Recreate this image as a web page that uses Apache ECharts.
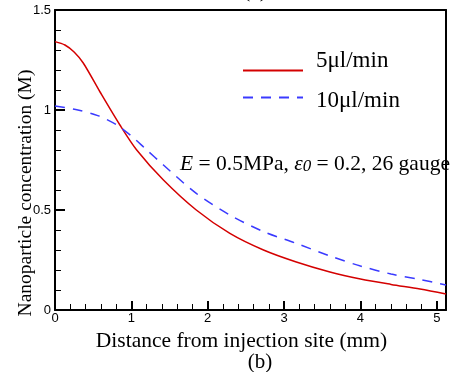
<!DOCTYPE html>
<html><head><meta charset="utf-8">
<script src="https://cdn.jsdelivr.net/npm/echarts@6/dist/echarts.min.js"></script>
<style>html,body{margin:0;padding:0;background:#fff}#c{width:451px;height:372px}</style>
</head><body><div id="c"></div>
<script>
// Data
const redX = [0, 0.13, 0.25, 0.37, 0.59, 0.85, 1.07, 1.42, 1.85, 2.29, 2.73, 3.16, 3.6, 4.0, 4.4, 4.78, 5.12];
const redY = [1.342, 1.325, 1.29, 1.235, 1.09, 0.925, 0.80, 0.65, 0.50, 0.383, 0.30, 0.24, 0.19, 0.155, 0.128, 0.105, 0.08];
const blueX = [0, 0.30, 0.56, 0.81, 1.0, 1.18, 1.42, 1.85, 2.29, 2.73, 3.16, 3.6, 4.0, 4.4, 4.75, 5.12];
const blueY = [1.02, 1.0, 0.972, 0.925, 0.87, 0.808, 0.725, 0.583, 0.475, 0.392, 0.333, 0.27, 0.22, 0.18, 0.155, 0.125];
const seriesNames = ['5μl/min', '10μl/min'];
const xTicks = [0, 1, 2, 3, 4, 5];
const yTicks = [0, 0.5, 1, 1.5];

const serif = 'Liberation Serif, Times New Roman, serif';
const sans = 'Liberation Sans, Arial, sans-serif';
const pairs = (xs, ys) => xs.map((x, i) => [x, ys[i]]);

const chart = echarts.init(document.getElementById('c'));
chart.setOption({
  animation: false,
  backgroundColor: '#fff',
  grid: { left: 55, right: 5, top: 10, bottom: 62 },
  legend: [
    { left: 237, top: 44, itemWidth: 60, itemHeight: 14, data: [seriesNames[0]], itemStyle: { opacity: 0 },
      formatter: '{t|{name}}',
      textStyle: { rich: { t: { fontFamily: serif, fontSize: 23, color: '#000', padding: [0, 0, 20, 8] } } } },
    { left: 237, top: 84, itemWidth: 60, itemHeight: 14, data: [seriesNames[1]], itemStyle: { opacity: 0 },
      formatter: '{t|{name}}',
      textStyle: { rich: { t: { fontFamily: serif, fontSize: 23, color: '#000', padding: [6, 0, 0, 8] } } } }
  ],
  xAxis: [{
    type: 'value', min: 0, max: 5.12, interval: 1, position: 'bottom',
    name: 'Distance from injection site (mm)', nameLocation: 'middle', nameGap: 16,
    nameTextStyle: { fontFamily: serif, fontSize: 21.5, color: '#000', padding: [0, 18, 0, 0] },
    axisLine: { show: true, onZero: false, lineStyle: { color: '#000', width: 2 } },
    axisTick: { show: true, inside: true, length: 9, lineStyle: { color: '#000', width: 2 } },
    axisLabel: { margin: 2, fontFamily: sans, fontSize: 13, color: '#000',
      formatter: v => (xTicks.indexOf(v) >= 0 ? String(v) : '') },
    splitLine: { show: false }
  }, {
    type: 'value', min: 0, max: 5.12, interval: 0.2, position: 'bottom',
    axisLine: { show: false }, axisLabel: { show: false }, splitLine: { show: false },
    axisTick: { show: true, inside: true, length: 6, lineStyle: { color: '#000', width: 1 } }
  }, {
    type: 'value', min: 0, max: 5.12, position: 'top',
    axisTick: { show: false }, axisLabel: { show: false }, splitLine: { show: false },
    axisLine: { show: true, onZero: false, lineStyle: { color: '#000', width: 2 } }
  }],
  yAxis: [{
    type: 'value', min: 0, max: 1.5, interval: 0.5, position: 'left',
    axisLine: { show: true, onZero: false, lineStyle: { color: '#000', width: 2 } },
    axisTick: { show: true, inside: true, length: 10, lineStyle: { color: '#000', width: 2 } },
    minorTick: { show: true, splitNumber: 5, length: 6, lineStyle: { color: '#000', width: 1 } },
    axisLabel: { margin: 4, fontFamily: sans, fontSize: 13, color: '#000',
      formatter: v => (yTicks.indexOf(v) >= 0 ? String(v) : '') },
    splitLine: { show: false }
  }, {
    type: 'value', min: 0, max: 1.5, position: 'right',
    axisTick: { show: false }, axisLabel: { show: false }, splitLine: { show: false },
    axisLine: { show: true, onZero: false, lineStyle: { color: '#000', width: 2 } }
  }],
  series: [
    { name: seriesNames[0], type: 'line', data: pairs(redX, redY), smooth: 0.3, symbol: 'none',
      lineStyle: { color: '#d40000', width: 1.5 }, itemStyle: { color: '#d40000' } },
    { name: seriesNames[1], type: 'line', data: pairs(blueX, blueY), smooth: 0.3, symbol: 'none',
      lineStyle: { color: '#3a3aff', width: 1.5, type: [10, 8] }, itemStyle: { color: '#3a3aff' } }
  ],
  graphic: [
    { type: 'text', left: 180, top: 153, z: 10,
      style: { text: '{i|E} = 0.5MPa, {i|ε}{s|0} = 0.2, 26 gauge', fill: '#000',
        font: '21.5px ' + serif,
        rich: { i: { fontFamily: serif, fontSize: 21.5, fontStyle: 'italic' },
                s: { fontFamily: serif, fontSize: 17, fontStyle: 'italic', padding: [6, 0, 0, 0] } } } },
    { type: 'text', x: 26, y: 193, rotation: Math.PI / 2,
      style: { text: 'Nanoparticle concentration (M)', fill: '#000', font: '19.5px ' + serif, align: 'center', verticalAlign: 'middle' } },
    { type: 'text', x: 260, y: 362,
      style: { text: '(b)', fill: '#000', font: '21px ' + serif, align: 'center', verticalAlign: 'middle' } },
    { type: 'text', x: 255, y: -9,
      style: { text: '(a)', fill: '#000', font: '21px ' + serif, align: 'center', verticalAlign: 'middle' } }
  ]
});
</script></body></html>
